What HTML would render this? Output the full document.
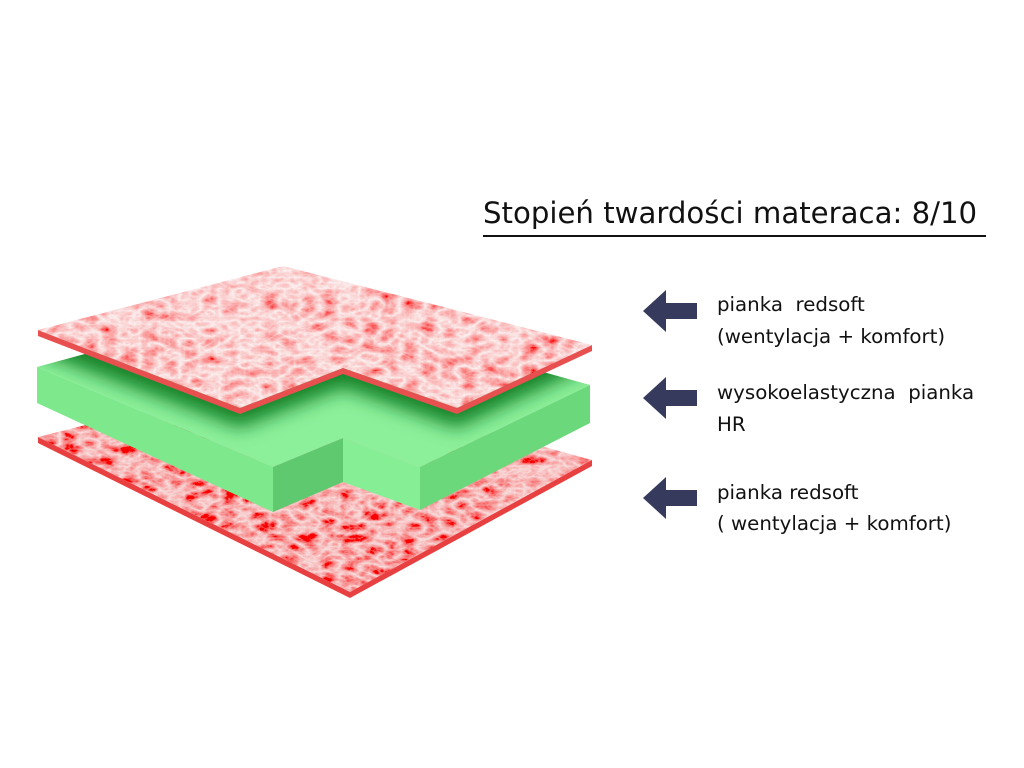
<!DOCTYPE html>
<html><head><meta charset="utf-8"><style>
html,body{margin:0;padding:0;background:#fff;width:1024px;height:768px;overflow:hidden}
.t{position:absolute;font-family:"DejaVu Sans","Liberation Sans",sans-serif;color:#111;white-space:pre}
</style></head><body>
<svg width="1024" height="768" style="position:absolute;left:0;top:0">
<defs>
<filter id="marb" x="0" y="0" width="100%" height="100%">
<feTurbulence type="turbulence" baseFrequency="0.05 0.09" numOctaves="4" seed="3" result="n"/>
<feColorMatrix in="n" type="matrix" values="0 0 0 0 0.96  -1.1 0 0 0 0.92  -1.1 0 0 0 0.92  0 0 0 0 1" result="c"/>
<feComposite in="c" in2="SourceGraphic" operator="in"/>
</filter>
<filter id="marb2" x="0" y="0" width="100%" height="100%">
<feTurbulence type="turbulence" baseFrequency="0.05 0.09" numOctaves="4" seed="8" result="n"/>
<feColorMatrix in="n" type="matrix" values="0 0 0 0 0.94  -1.3 0 0 0 0.8  -1.3 0 0 0 0.8  0 0 0 0 1" result="c"/>
<feComposite in="c" in2="SourceGraphic" operator="in"/>
</filter>
<filter id="blur" x="-50%" y="-50%" width="200%" height="200%"><feGaussianBlur stdDeviation="9"/></filter>
<clipPath id="gclip"><polygon points="37,367 283,300 590,385 420,467 343,438 273,467"/></clipPath>
</defs>
<!-- bottom sheet -->
<polygon points="38,437 283,375 592,460 350,592" fill="#e33" filter="url(#marb2)"/>
<polygon points="38,437 350,592 592,460 592,466 350,598 38,443" fill="#e84040"/>
<!-- green slab -->
<polygon points="37,367 283,300 590,385 420,467 343,438 273,467" fill="#8cef9a"/>
<g clip-path="url(#gclip)">
<polygon points="0,338 240,428 343,388 457,428 620,352 620,250 0,250" fill="#18842c" filter="url(#blur)"/>
</g>
<polygon points="37,367 273,467 273,512 37,403" fill="#7ee88d"/>
<polygon points="273,467 343,438 343,482 273,512" fill="#5ec96e"/>
<polygon points="343,438 420,467 420,510 343,482" fill="#86ef96"/>
<polygon points="420,467 590,385 590,423 420,510" fill="#6bd97b"/>
<!-- top sheet -->
<polygon points="38,330 240,408 343,368 457,408 592,345 592,351 457,414 343,374 240,414 38,336" fill="#e85050"/>
<polygon points="38,330 283,266 592,345 457,408 343,368 240,408" fill="#e66" filter="url(#marb)"/>
<!-- arrows -->
<g fill="#363a5c">
<polygon points="643,311 666,290 666,303 697,303 697,319 666,319 666,332"/>
<polygon points="643,398 666,377 666,390 697,390 697,406 666,406 666,419"/>
<polygon points="643,498 666,477 666,490 697,490 697,506 666,506 666,519"/>
</g>
<line x1="483" y1="236" x2="986" y2="236" stroke="#111" stroke-width="2"/>
</svg>
<div class="t" style="left:483px;top:196px;font-size:29.2px">Stopień twardości materaca: 8/10</div>
<div class="t" style="left:717px;top:289px;font-size:19.8px;line-height:32px">pianka  redsoft
(wentylacja + komfort)</div>
<div class="t" style="left:717px;top:377px;font-size:19.8px;line-height:32px">wysokoelastyczna  pianka
HR</div>
<div class="t" style="left:717px;top:477px;font-size:19.8px;line-height:31px">pianka redsoft
( wentylacja + komfort)</div>
</body></html>
